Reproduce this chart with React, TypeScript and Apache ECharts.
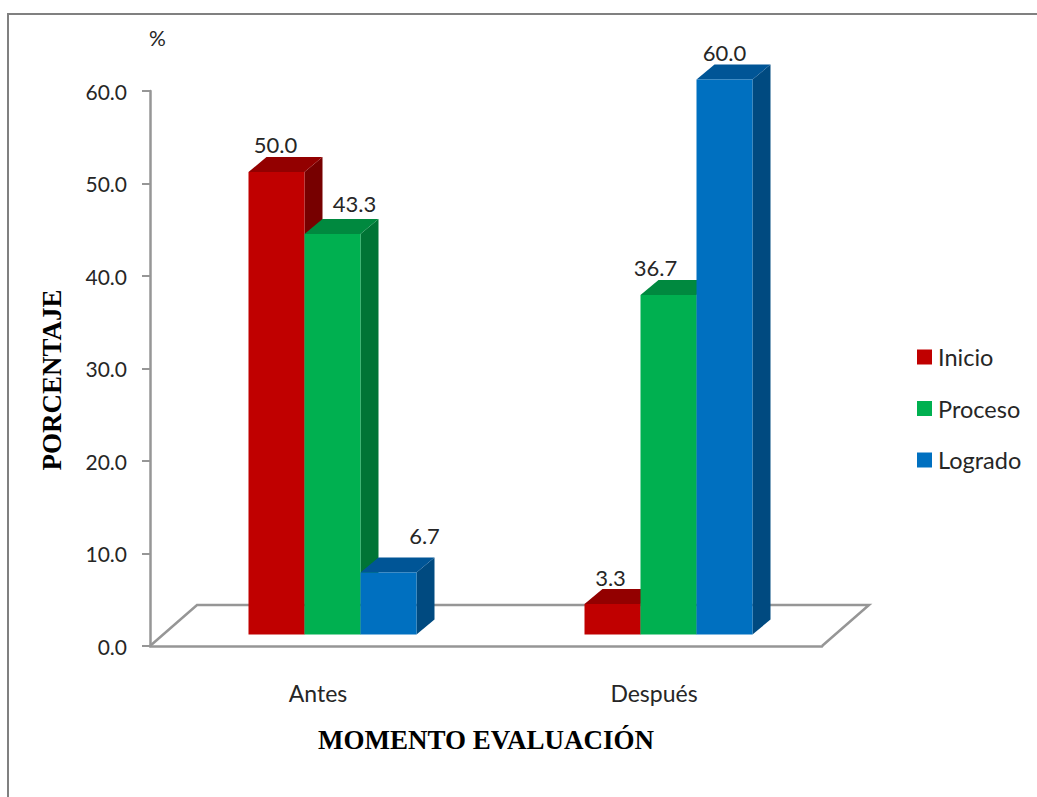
import React, { useEffect, useRef } from "react";
import * as echarts from "echarts";

const categories = ["Antes", "Después"];
const inicioValues = [50.0, 3.3];
const procesoValues = [43.3, 36.7];
const logradoValues = [6.7, 60.0];
const yTicks = { min: 0, max: 60, interval: 10 };

const SANS = "Lato, 'Noto Sans', sans-serif";
const SERIF = "'Liberation Serif', serif";

const BAR_W = 56;
const SHIFT_X = 14.5;
const LIFT_Y = 11.5;
const DEPTH_X = 18;
const DEPTH_Y = 15;
const FONT_COLOR = "#262626";
const LINE = "#969696";

// label placement per series, per category: [dx from bar centre, dy from bar top]
const labelOffsets = {
  Inicio: [[-1, -28], [-2, -26]],
  Proceso: [[22, -30], [-13, -28]],
  Logrado: [[36, -37], [0, -27]],
};

const makeRender = (name: string, slot: number, front: string, top: string, side: string) =>
  (_p: any, api: any) => {
    const cat = api.value(0);
    const val = api.value(1);
    const base = api.coord([cat, 0]);
    const head = api.coord([cat, val]);
    const x0 = base[0] + SHIFT_X + (slot - 1) * BAR_W - BAR_W / 2;
    const x1 = x0 + BAR_W;
    const yB = base[1] - LIFT_Y;
    const yT = head[1] - LIFT_Y;
    const off = (labelOffsets as any)[name][cat];
    return {
      type: "group",
      children: [
        { type: "polygon", shape: { points: [[x1, yB], [x1 + DEPTH_X, yB - DEPTH_Y], [x1 + DEPTH_X, yT - DEPTH_Y], [x1, yT]] }, style: { fill: side } },
        { type: "polygon", shape: { points: [[x0, yT], [x0 + DEPTH_X, yT - DEPTH_Y], [x1 + DEPTH_X, yT - DEPTH_Y], [x1, yT]] }, style: { fill: top } },
        { type: "rect", shape: { x: x0, y: yT, width: BAR_W, height: yB - yT }, style: { fill: front } },
        {
          type: "text",
          style: {
            text: val.toFixed(1),
            x: (x0 + x1) / 2 + off[0],
            y: yT + off[1],
            fill: FONT_COLOR,
            font: `22px ${SANS}`,
            align: "center",
            verticalAlign: "middle",
          },
        },
      ],
    };
  };

const barSeries = (name: string, values: number[], slot: number, front: string, top: string, side: string) => ({
  name,
  type: "custom",
  coordinateSystem: "cartesian2d",
  clip: false,
  itemStyle: { color: front },
  encode: { x: 0, y: 1 },
  data: values.map((v, i) => [i, v]),
  renderItem: makeRender(name, slot, front, top, side),
});

export default function App() {
  const ref = useRef<HTMLDivElement>(null);
  useEffect(() => {
    document.body.style.margin = "0";
    const chart = echarts.init(ref.current!, undefined, { renderer: "svg" });
    chart.setOption({
      animation: false,
      backgroundColor: "#ffffff",
      grid: { left: 150, right: 215, top: 91, bottom: 151, containLabel: false },
      xAxis: {
        type: "category",
        data: categories,
        axisLine: { show: true, lineStyle: { color: LINE, width: 2.5 } },
        axisTick: { show: false },
        axisLabel: { color: FONT_COLOR, fontFamily: SANS, fontSize: 23, margin: 35 },
        name: "MOMENTO EVALUACIÓN",
        nameLocation: "middle",
        nameGap: 80,
        nameTextStyle: { color: "#000", fontFamily: SERIF, fontWeight: "bold", fontSize: 27 },
      },
      yAxis: {
        type: "value",
        ...yTicks,
        splitLine: { show: false },
        axisLine: { show: true, lineStyle: { color: LINE, width: 2.5 } },
        axisTick: { show: true, length: 8, lineStyle: { color: LINE, width: 2 } },
        axisLabel: { color: FONT_COLOR, fontFamily: SANS, fontSize: 21, margin: 23, formatter: (v: number) => v.toFixed(1) },
      },
      legend: {
        orient: "vertical",
        left: 917,
        top: 345,
        padding: 0,
        itemWidth: 15,
        itemHeight: 15,
        itemGap: 27.5,
        icon: "rect",
        textStyle: { color: FONT_COLOR, fontFamily: SANS, fontSize: 23.5, padding: [0, 0, 0, 1] },
        data: ["Inicio", "Proceso", "Logrado"],
      },
      series: [
        barSeries("Inicio", inicioValues, 0, "#C00000", "#930000", "#770000"),
        barSeries("Proceso", procesoValues, 1, "#00B050", "#00893F", "#007435"),
        barSeries("Logrado", logradoValues, 2, "#0070C0", "#005596", "#004A80"),
      ],
      graphic: [
        { type: "polyline", silent: true, z: -1, shape: { points: [[8, 797], [8, 14], [1037, 14]] }, style: { stroke: "#808080", lineWidth: 2, fill: "none" } },
        { type: "polyline", silent: true, z: -1, shape: { points: [[150, 646], [197, 605], [869, 605], [822, 646]] }, style: { stroke: LINE, lineWidth: 2.5, fill: "none" } },
        { type: "text", left: 149, top: 27, style: { text: "%", fill: FONT_COLOR, font: `21px ${SANS}` } },
        { type: "text", x: 52, y: 380, rotation: Math.PI / 2, style: { text: "PORCENTAJE", fill: "#000", font: `bold 27px ${SERIF}`, align: "center", verticalAlign: "middle" } },
      ],
    });
    return () => chart.dispose();
  }, []);
  return <div ref={ref} style={{ position: "absolute", left: 0, top: 0, width: 1037, height: 797 }} />;
}
